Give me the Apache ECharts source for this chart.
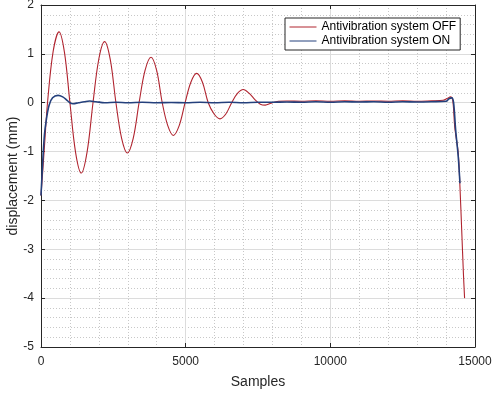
<!DOCTYPE html>
<html>
<head>
<meta charset="utf-8">
<script src="https://cdn.jsdelivr.net/npm/echarts@6/dist/echarts.min.js"></script>
<style>html,body{margin:0;padding:0;background:#fff}#c{width:492px;height:394px}</style>
</head>
<body>
<div id="c"></div>
<script>
// Series names
const seriesNames = ['Antivibration system OFF', 'Antivibration system ON'];
// Red series (OFF): sample index, displacement (mm)
const offX = [0,60,130,225,420,622,811,1000,1196,1393,1595,1797,2000,2200,2395,2590,2787,2984,3187,3390,3596,3802,3997,4190,4382,4573,4776,4980,5180,5380,5580,5780,5983,6186,6388,6590,6790,6991,7200,7400,7580,7750,7950,8200,8500,9000,9500,10000,10500,11000,11500,12000,12500,13000,13500,13900,14050,14150,14230,14300,14420,14480,14540,14600,14640];
const offY = [-1.9,-1.4,-0.8,0.0,1.05,1.45,1.03,0.0,-1.02,-1.44,-1.0,0.0,0.9,1.25,0.88,0.0,-0.73,-1.03,-0.73,0.0,0.66,0.93,0.66,0.0,-0.47,-0.67,-0.47,0.0,0.42,0.60,0.42,0.0,-0.23,-0.33,-0.23,0.0,0.19,0.27,0.19,0.06,-0.03,-0.05,-0.01,0.03,0.035,0.03,0.04,0.03,0.04,0.03,0.035,0.03,0.04,0.03,0.04,0.05,0.09,0.12,0.05,-0.5,-1.03,-1.72,-2.6,-3.5,-4.0];
// Blue series (ON)
const onX = [0,60,120,184,280,400,588,750,900,1000,1106,1300,1500,1683,1900,2200,2600,3000,3500,4000,4500,5000,5500,6000,6500,7000,7500,8000,8500,9000,9500,10000,10500,11000,11500,12000,12500,13000,13500,14000,14100,14200,14260,14330,14420,14480];
const onY = [-1.9,-1.2,-0.65,-0.35,-0.05,0.1,0.15,0.12,0.05,0.0,-0.02,0.0,0.02,0.035,0.02,0.0,0.01,0.0,0.01,0.0,0.005,0.0,0.01,0.0,0.01,0.0,0.01,0.01,0.015,0.01,0.02,0.01,0.02,0.015,0.02,0.01,0.02,0.015,0.02,0.03,0.08,0.1,0.0,-0.55,-1.1,-1.65];
// Axis settings
const xTicks = [0, 5000, 10000, 15000];
const yTicks = [-5, -4, -3, -2, -1, 0, 1, 2];

const zip = (a, b) => a.map((v, i) => [v, b[i]]);
const chart = echarts.init(document.getElementById('c'), null, {renderer: 'canvas'});
const font = 'Arial, "Liberation Sans", Helvetica, sans-serif';
const baseX = {
  type: 'value', min: xTicks[0], max: xTicks[xTicks.length-1], interval: 5000,
  axisLine: {show: true, onZero: false, lineStyle: {color: '#262626', width: 1}},
  axisTick: {show: true, inside: true, length: 4, lineStyle: {color: '#262626'}},
};
const baseY = {
  type: 'value', min: yTicks[0], max: yTicks[yTicks.length-1], interval: 1,
  axisLine: {show: true, onZero: false, lineStyle: {color: '#262626', width: 1}},
  axisTick: {show: true, inside: true, length: 4, lineStyle: {color: '#262626'}},
};
chart.setOption({
  animation: false,
  backgroundColor: '#fff',
  grid: {left: 41, right: 17, top: 5, bottom: 47, containLabel: false, outerBoundsMode: 'none'},
  legend: {
    orient: 'vertical', left: 285, top: 18,
    data: seriesNames,
    backgroundColor: '#fff', borderColor: '#262626', borderWidth: 1, borderRadius: 0,
    padding: [3, 4, 3, 4], itemWidth: 27, itemHeight: 14, itemGap: 2,
    itemStyle: {opacity: 0, color: 'transparent', borderWidth: 0},
    lineStyle: {width: 1, opacity: 1},
    textStyle: {fontFamily: font, fontSize: 12, color: '#000'}
  },
  xAxis: [
    Object.assign({}, baseX, {
      position: 'bottom',
      name: 'Samples', nameLocation: 'middle', nameGap: 28, nameMoveOverlap: false,
      nameTextStyle: {fontFamily: font, fontSize: 14, color: '#262626'},
      axisLabel: {fontFamily: font, fontSize: 12, color: '#262626', margin: 9, formatter: v => String(v)},
      minorTick: {show: false, splitNumber: 5},
      splitLine: {show: true, lineStyle: {color: '#dcdcdc', width: 1}},
      minorSplitLine: {show: true, lineStyle: {color: '#c8c8c8', width: 1, type: [1, 2]}}
    }),
    Object.assign({}, baseX, {position: 'top', axisLabel: {show: false}, splitLine: {show: false}})
  ],
  yAxis: [
    Object.assign({}, baseY, {
      position: 'left',
      name: 'displacement (mm)', nameLocation: 'middle', nameGap: 21, nameRotate: 90, nameMoveOverlap: false,
      nameTextStyle: {fontFamily: font, fontSize: 14, color: '#262626'},
      axisLabel: {fontFamily: font, fontSize: 12, color: '#262626', margin: 7, formatter: v => String(v)},
      minorTick: {show: false, splitNumber: 5},
      splitLine: {show: true, lineStyle: {color: '#dcdcdc', width: 1}},
      minorSplitLine: {show: true, lineStyle: {color: '#c8c8c8', width: 1, type: [1, 2]}}
    }),
    Object.assign({}, baseY, {position: 'right', axisLabel: {show: false}, splitLine: {show: false}})
  ],
  series: [
    {name: seriesNames[0], type: 'line', data: zip(offX, offY), symbol: 'none', smooth: 0.35,
     lineStyle: {color: '#b0242f', width: 1.1}, itemStyle: {color: '#b0242f'}},
    {name: seriesNames[1], type: 'line', data: zip(onX, onY), symbol: 'none', smooth: 0.35,
     lineStyle: {color: '#24407c', width: 1.6}, itemStyle: {color: '#24407c'}}
  ]
});
</script>
</body>
</html>
